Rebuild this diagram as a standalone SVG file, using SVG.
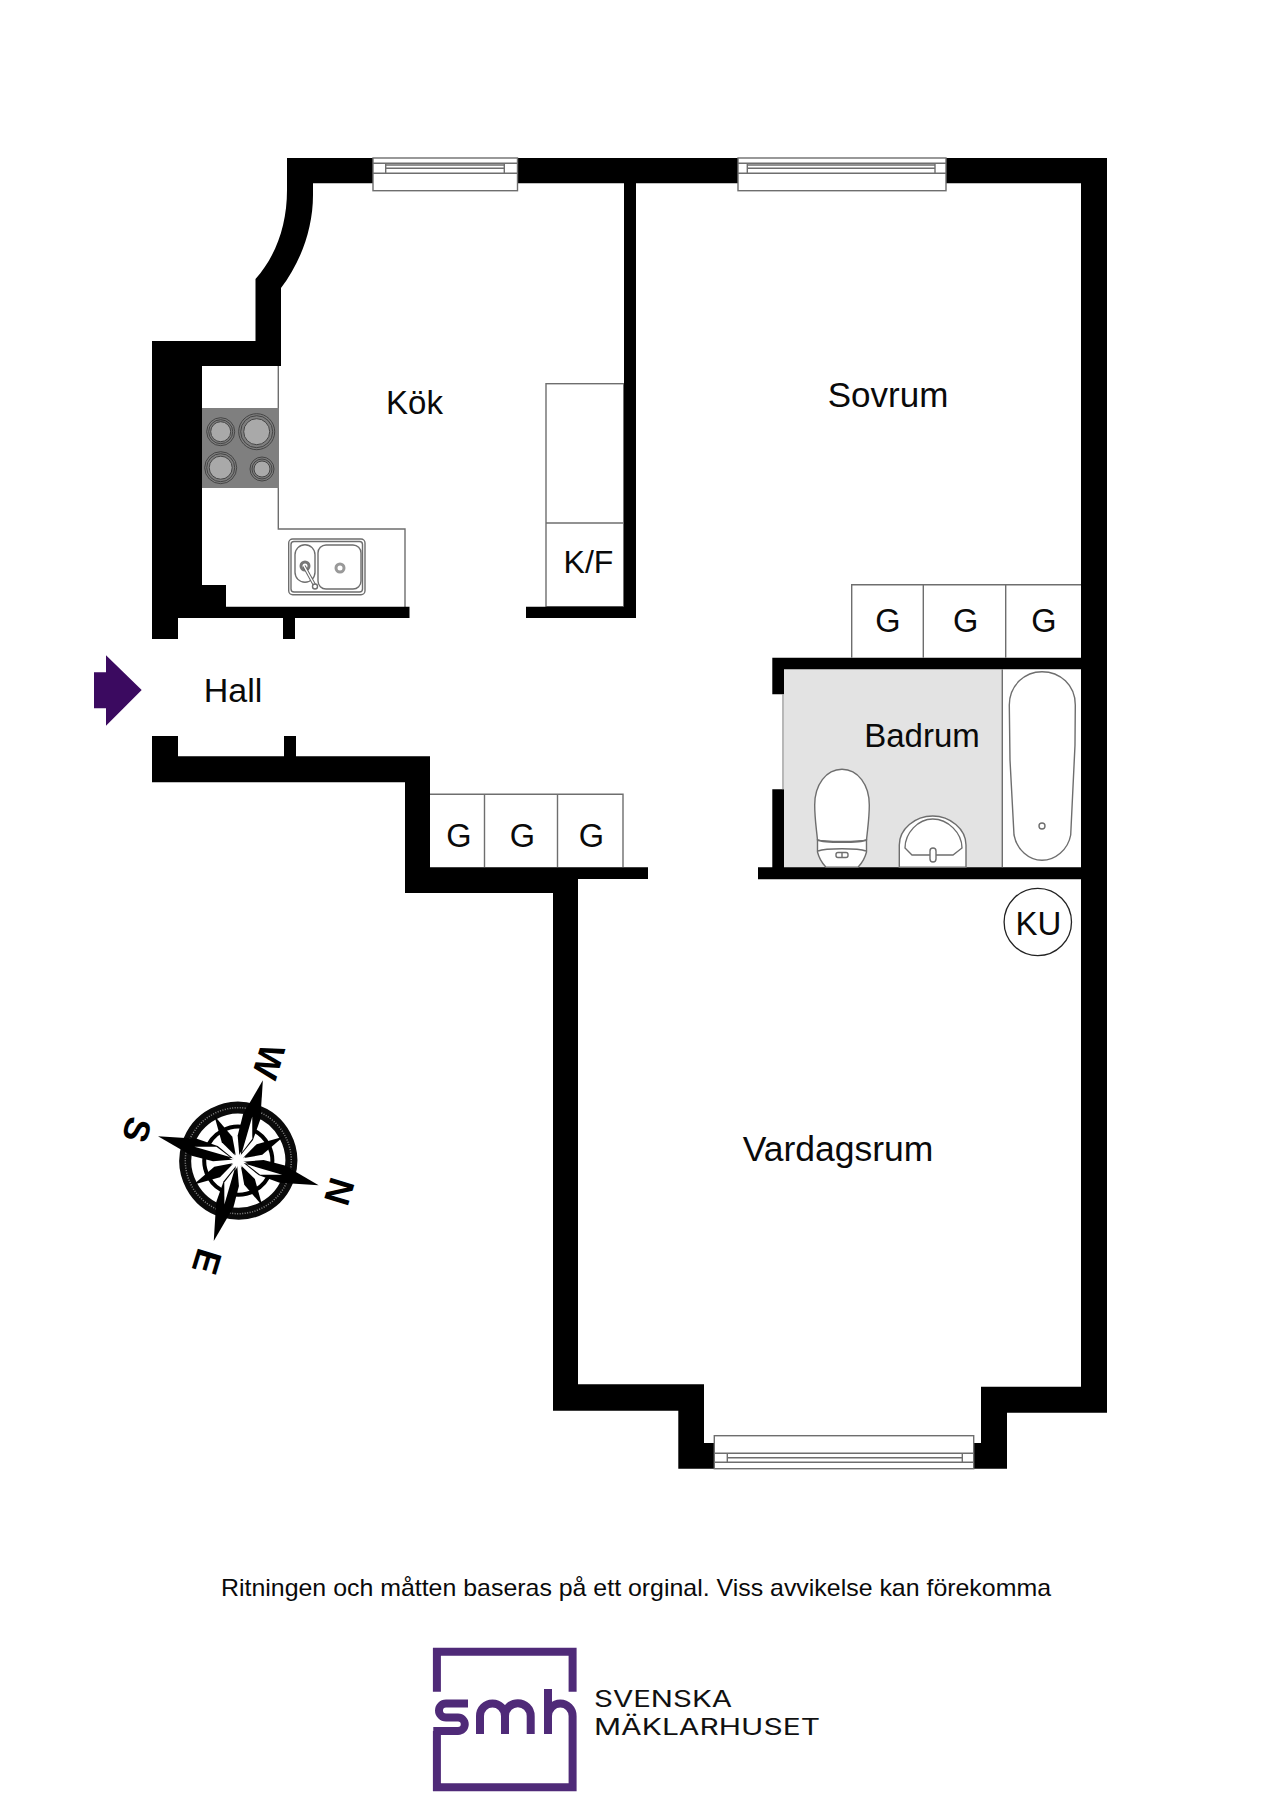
<svg xmlns="http://www.w3.org/2000/svg" width="1280" height="1811" viewBox="0 0 1280 1811">
<style>
.t{font-family:"Liberation Sans",Arial,sans-serif;fill:#0a0a0a;text-anchor:middle}
.l{fill:none;stroke:#6e6e6e;stroke-width:1.400}
.lw{fill:#fff;stroke:#6e6e6e;stroke-width:1.400}
.w{fill:#000}
.b{fill:#a9a9a9;stroke:#444;stroke-width:1}
.r{fill:none;stroke:#444;stroke-width:1}
.c{font-family:"Liberation Sans",Arial,sans-serif;font-weight:700;font-size:36px;fill:#000;text-anchor:middle}
.lg{font-family:Inter,"Liberation Sans",sans-serif;font-size:22.500px;fill:#111}
</style>
<defs>
<g id="ray">
<polygon class="w" points="0,-84 9,-46 8,-24 0,-4 -8,-24 -9,-46"/>
<polygon fill="#fff" points="0.500,-46 7,-25 1,-9"/>
</g>
<g id="ray2">
<polygon class="w" points="0,-51 6,-24 0,-5 -6,-24"/>
</g>
</defs>
<rect width="1280" height="1811" fill="#fff"/>

<g id="floors">
<rect x="784" y="669" width="218.300" height="198.500" fill="#e3e3e3"/>
</g>

<g id="kitchen-fixtures">
<path class="l" d="M278.300,366V529H405V607"/>
<rect x="202" y="408" width="77" height="80" fill="#7f7f7f"/>
<g id="hob">
<circle class="r" cx="220.700" cy="431.700" r="14"/><circle class="r" cx="220.700" cy="431.700" r="12"/><circle class="b" cx="220.700" cy="431.700" r="10"/>
<circle class="r" cx="256.700" cy="431.700" r="18"/><circle class="r" cx="256.700" cy="431.700" r="16"/><circle class="b" cx="256.700" cy="431.700" r="13"/>
<circle class="r" cx="220.700" cy="467.700" r="16"/><circle class="r" cx="220.700" cy="467.700" r="14"/><circle class="b" cx="220.700" cy="467.700" r="11.500"/>
<circle class="r" cx="262" cy="469" r="12"/><circle class="r" cx="262" cy="469" r="10"/><circle class="b" cx="262" cy="469" r="8"/>
</g>
<g id="sink">
<rect class="l" x="288.700" y="539" width="76.300" height="55.700" rx="4"/>
<rect class="l" x="291" y="541.500" width="71.500" height="50.500" rx="3"/>
<rect class="l" x="295" y="544.700" width="20" height="37.600" rx="10"/>
<rect class="l" x="318" y="545" width="43" height="44" rx="8"/>
<circle cx="305" cy="566" r="4" fill="none" stroke="#777" stroke-width="3"/>
<circle cx="340" cy="568" r="4" fill="none" stroke="#999" stroke-width="3"/>
<path d="M304,566L315,586" stroke="#666" stroke-width="3.500" fill="none"/>
<path d="M304,566L315,586" stroke="#fff" stroke-width="1.500" fill="none"/>
<circle class="lw" cx="315" cy="586.500" r="2.500"/>
</g>
<rect class="l" x="546" y="383.700" width="77.700" height="223"/>
<path class="l" d="M546,523H623.700"/>
</g>

<g id="walls">
<path class="w" d="M287,158H1107V1412.700H1007V1468.700H974V1443H981V1386.700H1081V183.300H636V618H526V606.700H624V183.300H313V195C313,230 300,263 281,288V366H202V585H226V606.700H409.500V618H295V639H283V618H178V639H152V341H255.500V279C276,256 287,225 287,190Z"/>
<path class="w" d="M553,893V1410.700H678.300V1468.700H714.300V1443H704V1384.300H578V879H648V867.300H430V756.300H296V736H284V756.300H178V736H152V782.300H405V893Z"/>
<path class="w" d="M772.300,657.700H1081V669.300H784V694.300H772.300Z"/>
<path class="w" d="M772.300,789.300H784V867.300H1081V879.300H758V867.300H772.300Z"/>
<path d="M783,694.300V789.300" stroke="#888" stroke-width="1.200" fill="none"/>
</g>

<g id="window-kitchen">
<rect class="lw" x="373" y="158" width="144.500" height="32.700"/>
<path class="l" d="M373,163.300H517.500M373,173.300H517.500M385.700,163.300V173.300M504.300,163.300V173.300M385.700,168.300H504.300M385.700,165H504.300"/>
</g>
<g id="window-bedroom">
<rect class="lw" x="738" y="158" width="208" height="32.700"/>
<path class="l" d="M738,163.300H946M738,173.300H946M747.300,163.300V173.300M935,163.300V173.300M747.300,168.300H935M747.300,165H935"/>
</g>
<g id="window-living">
<rect class="lw" x="714.300" y="1435.700" width="259.400" height="33"/>
<path class="l" d="M714.300,1453.300H973.700M714.300,1462.300H973.700M727.300,1453.300V1462.300M962.300,1453.300V1462.300M727.300,1457.700H962.300"/>
</g>

<g id="wardrobes-hall">
<path class="l" d="M430,794.300H623V867M484.500,794.300V867M557.500,794.300V867"/>
<text class="t" x="459" y="847" font-size="32.500">G</text>
<text class="t" x="522.500" y="847" font-size="32.500">G</text>
<text class="t" x="591.500" y="847" font-size="32.500">G</text>
</g>
<g id="wardrobes-bedroom">
<path class="l" d="M851.700,657.700V584.700H1081M923.300,584.700V657.700M1005.700,584.700V657.700"/>
<text class="t" x="888" y="632" font-size="32.500">G</text>
<text class="t" x="965.700" y="632" font-size="32.500">G</text>
<text class="t" x="1044" y="632" font-size="32.500">G</text>
</g>

<g id="bath-fixtures">
<path class="l" d="M1002.300,669.300V867.300"/>
<path class="l" d="M1009.300,705C1009.300,685 1025,671.700 1042,671.700C1060,671.700 1075.300,685 1075.300,705L1075,745L1070.700,835C1068,850 1055,860.300 1042,860.300C1029,860.300 1017,850 1014,835L1010,760Z"/>
<circle class="l" cx="1042" cy="826" r="3"/>
<g id="toilet">
<path class="lw" d="M817.500,840C816,825 814.700,818 814.700,805C814.700,785 826,769.300 842,769.300C858,769.300 869.300,785 869.300,805C869.300,818 868,825 866.500,840C860,842 824,842 817.500,840Z"/>
<path class="lw" d="M817.500,840L817.500,852C819,858 822,863 826,867.300H858C862,863 865,858 866.500,852L866.500,840C860,843 824,843 817.500,840Z"/>
<path class="l" d="M818,851C826,848 858,848 866,851"/>
<rect class="l" x="836" y="852.500" width="12" height="5" rx="2"/>
<path class="l" d="M842,852.500V857.500"/>
</g>
<g id="basin">
<path class="lw" d="M899.300,867.300V845C899.300,829 915,816 932.700,816C950,816 966,829 966,845V867.300Z"/>
<path class="l" d="M905,848C905,833 918,819 932.700,819C948,819 962,833 962,848L953,855L912,855Z"/>
<rect class="lw" x="930" y="848" width="6" height="14" rx="3"/>
</g>
</g>

<g id="labels">
<text class="t" x="414.500" y="413.500" font-size="33">Kök</text>
<text class="t" x="588.500" y="573" font-size="32">K/F</text>
<text class="t" x="888" y="407" font-size="35">Sovrum</text>
<text class="t" x="233" y="702.300" font-size="34">Hall</text>
<text class="t" x="922" y="747" font-size="33">Badrum</text>
<text class="t" x="838" y="1161" font-size="35.500">Vardagsrum</text>
</g>

<g id="ku">
<circle cx="1037.800" cy="922" r="33.700" fill="#fff" stroke="#222" stroke-width="1.300"/>
<text class="t" x="1038.500" y="934.500" font-size="33">KU</text>
</g>

<g id="entry-arrow">
<polygon fill="#3b0a60" points="94,672.300 106,672.300 106,655.300 141.700,690 106,725.700 106,708.300 94,708.300"/>
</g>

<g id="compass">
<g transform="translate(238.300,1160.700) rotate(17)">
<circle r="53" fill="none" stroke="#0a0a0a" stroke-width="12"/>
<circle r="53" fill="none" stroke="#888" stroke-width="1.500" stroke-dasharray="1 1.500"/>
<circle r="34" fill="none" stroke="#000" stroke-width="4"/>
<use href="#ray2" transform="rotate(45)"/><use href="#ray2" transform="rotate(135)"/><use href="#ray2" transform="rotate(225)"/><use href="#ray2" transform="rotate(315)"/>
<use href="#ray"/><use href="#ray" transform="rotate(90)"/><use href="#ray" transform="rotate(180)"/><use href="#ray" transform="rotate(270)"/>
<polygon fill="#fff" points="0,-10 1.500,-3 6,-6 3,-1.500 10,0 3,1.500 6,6 1.500,3 0,10 -1.500,3 -6,6 -3,1.500 -10,0 -3,-1.500 -6,-6 -1.500,-3"/>
</g>
<text class="c" transform="translate(269.300,1061.700) rotate(107)" y="13">W</text>
<text class="c" transform="translate(340,1191.700) rotate(107)" y="13">N</text>
<text class="c" transform="translate(137.300,1130) rotate(107)" y="13">S</text>
<text class="c" transform="translate(207.300,1261.700) rotate(107)" y="13">E</text>
</g>

<g id="footer">
<text class="t" x="636" y="1596" font-size="24" textLength="830" lengthAdjust="spacingAndGlyphs">Ritningen och måtten baseras på ett orginal. Viss avvikelse kan förekomma</text>
</g>

<g id="logo">
<path d="M436.900,1691.700V1651.700H572.600V1691.700M436.900,1731V1787.300H572.600V1716C572.600,1709 567,1703.500 560.300,1703.500C553.500,1703.500 548,1709 548,1716M548,1689V1734M468,1703.500H446A7,7 0 0 0 446,1717.500H458A6.700,6.700 0 0 1 458,1731H433.300M480,1734V1716A12.500,12.500 0 0 1 505,1716V1734M505,1716A12.800,12.800 0 0 1 530.700,1716V1734" fill="none" stroke="#4f2a78" stroke-width="8"/>
<text class="lg" x="594" y="1707.300" textLength="138" lengthAdjust="spacingAndGlyphs">SVENSKA</text>
<text class="lg" x="594" y="1735" textLength="226" lengthAdjust="spacingAndGlyphs">MÄKLARHUSET</text>
</g>
</svg>
